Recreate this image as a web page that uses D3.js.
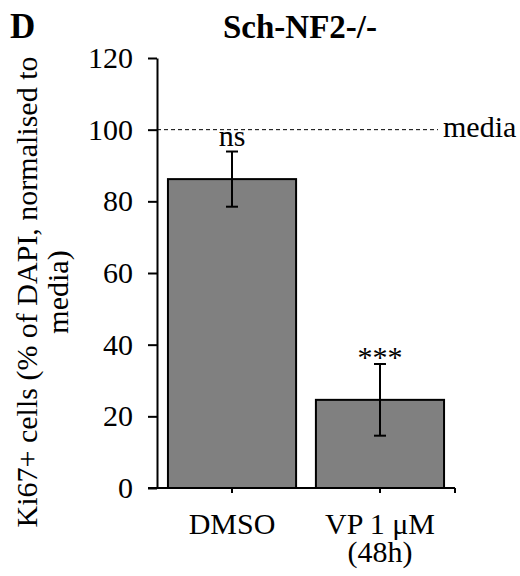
<!DOCTYPE html>
<html>
<head>
<meta charset="utf-8">
<script src="https://cdn.jsdelivr.net/npm/d3@7"></script>
<style>
  body { margin: 0; background: #fff; }
  text { font-family: 'Liberation Serif', Tinos, Times, 'Times New Roman', serif; }
</style>
</head>
<body>
<svg id="chart" width="520" height="576"></svg>
<script>
// values
var categories = ["DMSO", "VP 1 μM"];
var catLines = [["DMSO"], ["VP 1 μM", "(48h)"]];
var means = [86.2, 24.6];
var errs = [7.7, 10.0];
var sig = ["ns", "***"];
var yTicks = [0, 20, 40, 60, 80, 100, 120];
var refValue = 100, refLabel = "media";
var title = "Sch-NF2-/-", panel = "D";
var yLabel = ["Ki67+ cells (% of DAPI, normalised to", "media)"];

var FONT = "'Liberation Serif', Tinos, Times, serif";
var svg = d3.select("#chart");

var x = d3.scaleBand().domain(categories).range([157, 455])
    .paddingInner(0.134).paddingOuter(0.074);
var y = d3.scaleLinear().domain([0, 120]).range([488, 58]);

// bars
svg.append("g").selectAll("rect")
    .data(means)
    .enter().append("rect")
    .attr("x", function(d, i) { return x(categories[i]); })
    .attr("y", function(d) { return y(d); })
    .attr("width", x.bandwidth())
    .attr("height", function(d) { return y(0) - y(d); })
    .attr("fill", "#808080")
    .attr("stroke", "#000")
    .attr("stroke-width", 2);

// error bars
var eb = svg.append("g").attr("stroke", "#000").attr("stroke-width", 2);
means.forEach(function(m, i) {
    var cx = x(categories[i]) + x.bandwidth() / 2;
    eb.append("line").attr("x1", cx).attr("x2", cx).attr("y1", y(m - errs[i])).attr("y2", y(m + errs[i]));
    eb.append("line").attr("x1", cx - 6).attr("x2", cx + 6).attr("y1", y(m + errs[i])).attr("y2", y(m + errs[i]));
    eb.append("line").attr("x1", cx - 6).attr("x2", cx + 6).attr("y1", y(m - errs[i])).attr("y2", y(m - errs[i]));
});

// significance labels
svg.append("g").selectAll("text")
    .data(sig)
    .enter().append("text")
    .attr("text-anchor", "middle")
    .style("font-size", "30px")
    .attr("x", function(d, i) { return x(categories[i]) + x.bandwidth() / 2; })
    .attr("y", function(d, i) { return y(means[i] + errs[i]) + (d === "***" ? 3 : -6); })
    .text(function(d) { return d; });

// reference line
svg.append("line")
    .attr("x1", 157).attr("x2", 438)
    .attr("y1", y(refValue)).attr("y2", y(refValue))
    .attr("stroke", "#000").attr("stroke-width", 1)
    .attr("stroke-dasharray", "4,3");
svg.append("text")
    .style("font-size", "30px")
    .attr("x", 443).attr("y", y(refValue))
    .attr("dy", "0.25em")
    .text(refLabel);

// y axis
var yAxis = d3.axisLeft(y).tickValues(yTicks).tickSize(9).tickSizeOuter(0).tickPadding(15);
var gy = svg.append("g").attr("transform", "translate(157,0)").call(yAxis)
    .attr("font-family", FONT);
gy.selectAll("path, line").attr("stroke", "#000").attr("stroke-width", 2);
gy.selectAll("text")
    .style("font-size", "30px")
    .attr("fill", "#000");

// x axis
var xAxis = d3.axisBottom(x).tickSize(5).tickSizeOuter(0).tickFormat("");
var gx = svg.append("g").attr("transform", "translate(0,488)").call(xAxis);
gx.select("path").attr("d", "M148,0H455");
gx.selectAll("path, line").attr("stroke", "#000").attr("stroke-width", 2);
gx.append("line").attr("x1", 455).attr("x2", 455).attr("y1", 0).attr("y2", 5)
    .attr("stroke", "#000").attr("stroke-width", 2);

var xl = svg.append("g").selectAll("text")
    .data(catLines)
    .enter().append("text")
    .attr("text-anchor", "middle")
    .style("font-size", "30px")
    .attr("y", 534);
xl.selectAll("tspan")
    .data(function(d, i) { return d.map(function(t) { return { t: t, i: i }; }); })
    .enter().append("tspan")
    .attr("x", function(d) { return x(categories[d.i]) + x.bandwidth() / 2; })
    .attr("dy", function(d, j) { return j ? 28 : 0; })
    .text(function(d) { return d.t; });

// y label
yLabel.forEach(function(t, i) {
    svg.append("text")
        .attr("transform", "translate(" + (37 + i * 31) + ",292) rotate(-90)")
        .attr("text-anchor", "middle")
        .style("font-size", "30px")
        .text(t);
});

// title + panel letter
svg.append("text")
    .attr("x", 300).attr("y", 38)
    .attr("text-anchor", "middle")
    .style("font-size", "33px")
    .style("font-weight", "bold")
    .text(title);
svg.append("text")
    .attr("x", 10).attr("y", 38)
    .style("font-size", "35px")
    .style("font-weight", "bold")
    .text(panel);
</script>
</body>
</html>
